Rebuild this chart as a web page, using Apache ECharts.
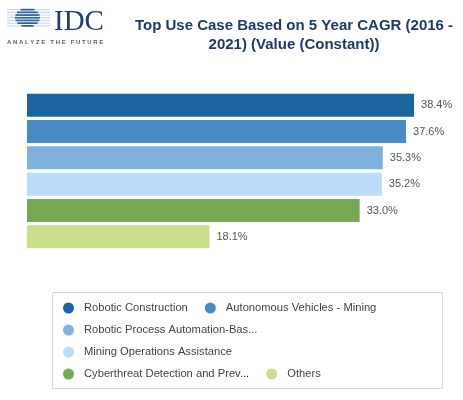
<!DOCTYPE html>
<html>
<head>
<meta charset="utf-8">
<script src="https://cdn.jsdelivr.net/npm/echarts@6/dist/echarts.min.js"></script>
<style>
  html, body { margin: 0; padding: 0; background: #fff; }
  #chart { width: 463px; height: 400px; }
</style>
</head>
<body>
<div id="chart"></div>
<script>
// 类别（图例名称）
const categories = [
    'Robotic Construction',
    'Autonomous Vehicles - Mining',
    'Robotic Process Automation-Bas...',
    'Mining Operations Assistance',
    'Cyberthreat Detection and Prev...',
    'Others'
];
// 5年CAGR（%）
const cagrValues = [38.4, 37.6, 35.3, 35.2, 33.0, 18.1];
// 柱子颜色
const barColors = ['#1c64a1', '#4a8bc3', '#7fb3de', '#b9ddfb', '#74a955', '#c9df8a'];

const FONT = 'Arial, "Liberation Sans", sans-serif';

// IDC 标志的条纹球
function buildLogo() {
    const items = [];
    const cx = 27.5, cy = 17.5, rx = 12.5, ry = 9.5;
    for (let i = 0; i < 7; i++) {
        const y = 9 + i * 2.7;
        items.push({
            type: 'rect',
            shape: { x: 7, y: y, width: 43, height: 1.2 },
            style: { fill: '#ccd8e8' }
        });
        const dy = (y + 0.6 - cy) / ry;
        if (Math.abs(dy) < 1) {
            const half = rx * Math.sqrt(1 - dy * dy);
            items.push({
                type: 'rect',
                shape: { x: cx - half, y: y - 0.2, width: half * 2, height: 1.7 },
                style: { fill: '#2f609e' }
            });
        }
    }
    items.push({
        type: 'text',
        style: {
            x: 54, y: 37, text: 'IDC',
            font: '29px "Liberation Serif", "DejaVu Serif", serif',
            fill: '#1d3f70', verticalAlign: 'bottom'
        }
    });
    items.push({
        type: 'text',
        style: {
            x: 7, y: 42, text: 'A N A L Y Z E   T H E   F U T U R E',
            font: 'bold 6px ' + FONT, fill: '#4a5f80', verticalAlign: 'middle'
        }
    });
    return items;
}

const chart = echarts.init(document.getElementById('chart'));

const series = categories.map(function(name, idx) {
    return {
        name: name,
        type: 'bar',
        stack: 'cagr',
        barWidth: 23,
        itemStyle: { color: barColors[idx] },
        label: {
            show: true,
            position: 'right',
            distance: 7,
            color: '#555',
            fontSize: 11,
            fontFamily: FONT,
            formatter: function(p) {
                return p.value.toFixed(1) + '%';
            }
        },
        data: cagrValues.map(function(v, i) { return i === idx ? v : '-'; })
    };
});

const option = {
    animation: false,
    color: barColors,
    graphic: buildLogo().concat([{
        type: 'text',
        style: {
            x: 294, y: 16,
            text: 'Top Use Case Based on 5 Year CAGR (2016 -\n2021) (Value (Constant))',
            font: 'bold 15px ' + FONT,
            fill: '#1d3b63',
            align: 'center',
            verticalAlign: 'top',
            lineHeight: 19
        }
    }, {
        // 图例外框
        type: 'rect',
        z: -1,
        shape: { x: 52.5, y: 292.5, width: 390, height: 96 },
        style: { fill: '#fff', stroke: '#d9d9d9', lineWidth: 1 }
    }]),
    grid: {
        left: 27,
        top: 92,
        width: 403.2,
        height: 158
    },
    xAxis: {
        type: 'value',
        min: 0,
        max: 40,
        show: false
    },
    yAxis: {
        type: 'category',
        inverse: true,
        data: categories,
        show: false
    },
    legend: {
        left: 52,
        top: 292,
        width: 368,
        padding: [9, 6, 7, 11],
        itemGap: 8,
        itemWidth: 21,
        itemHeight: 11,
        icon: 'circle',
        textStyle: {
            color: '#444',
            fontSize: 11.2,
            fontFamily: FONT,
            lineHeight: 14,
            padding: [0, 9, 0, 0]
        },
        data: categories
    },
    series: series
};

chart.setOption(option);
</script>
</body>
</html>
